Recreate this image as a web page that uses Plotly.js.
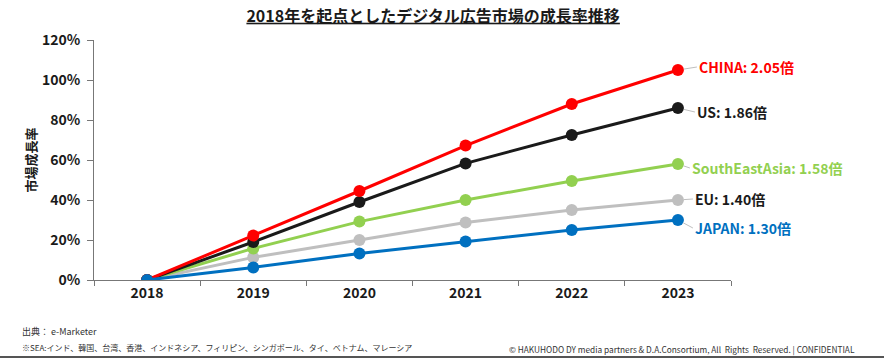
<!DOCTYPE html>
<html>
<head>
<meta charset="utf-8">
<script src="https://cdn.plot.ly/plotly-3.0.1.min.js"></script>
<style>
html,body{margin:0;padding:0;background:#fff;}
#chart{width:884px;height:358px;}
</style>
</head>
<body>
<div id="chart"></div>
<script>
const years = ['2018','2019','2020','2021','2022','2023'];
const seriesNames = ['EU','SouthEastAsia','US','CHINA','JAPAN'];
const euVals    = [0, 0.113, 0.200, 0.287, 0.350, 0.40];
const seaVals   = [0, 0.158, 0.292, 0.400, 0.495, 0.58];
const usVals    = [0, 0.190, 0.390, 0.583, 0.725, 0.86];
const chinaVals = [0, 0.222, 0.445, 0.672, 0.880, 1.05];
const japanVals = [0, 0.063, 0.133, 0.192, 0.250, 0.30];
const multiples = ['1.40倍','1.58倍','1.86倍','2.05倍','1.30倍'];
const colors = ['#BFBFBF','#92D050','#1A1A1A','#FF0000','#0070C0'];
const labelColors = ['#1A1A1A','#92D050','#1A1A1A','#FF0000','#0070C0'];
const labelOffsets = [[15,-1],[12,4],[17,4],[19,-3],[15,8]];
const allVals = [euVals, seaVals, usVals, chinaVals, japanVals];

const FONT = '"Noto Sans CJK JP", "Noto Sans", sans-serif';

const traces = allVals.map((v,i)=>({
  x: years, y: v, type:'scatter', mode:'lines+markers',
  name: seriesNames[i],
  line:{color:colors[i], width:3},
  marker:{color:colors[i], size:12},
  hoverinfo:'skip'
}));

const lastIdx = years.length-1;
const annotations = allVals.map((v,i)=>({
  x: lastIdx, y: v[lastIdx], xref:'x', yref:'y',
  text: '<b>'+seriesNames[i]+': '+multiples[i]+'</b>',
  showarrow:true, arrowhead:0, arrowwidth:1, arrowcolor:'#BFBFBF',
  ax: labelOffsets[i][0], ay: labelOffsets[i][1], standoff:6,
  xanchor:'left', yanchor:'middle',
  font:{family:FONT, size:14, color:labelColors[i]}
}));

annotations.push(
  {xref:'paper', yref:'paper', x:(20-94)/637, y:-51/240, xanchor:'left', yanchor:'middle',
   text:'出典： e-Marketer', showarrow:false, font:{family:FONT, size:9, color:'#333'}},
  {xref:'paper', yref:'paper', x:(20-94)/637, y:-67/240, xanchor:'left', yanchor:'middle',
   text:'※SEA:インド、韓国、台湾、香港、インドネシア、フィリピン、シンガポール、タイ、ベトナム、マレーシア', showarrow:false, font:{family:FONT, size:8, color:'#333'}},
  {xref:'paper', yref:'paper', x:(857-94)/637, y:-69/240, xanchor:'right', yanchor:'middle',
   text:'© HAKUHODO DY media partners & D.A.Consortium, All  Rights  Reserved. | CONFIDENTIAL', showarrow:false, font:{family:FONT, size:8.3, color:'#333'}}
);

const layout = {
  width:884, height:358,
  margin:{l:94, r:153, t:40, b:78},
  paper_bgcolor:'#fff', plot_bgcolor:'#fff',
  showlegend:false,
  title:{text:'<b><u>2018年を起点としたデジタル広告市場の成長率推移</u></b>', x:0.49, xanchor:'center', y:0.955, yanchor:'middle',
         font:{family:FONT, size:16, color:'#1A1A1A'}},
  xaxis:{type:'category', showgrid:false, zeroline:false, showline:true, linecolor:'#777', linewidth:1,
         ticks:'outside', ticklen:5, tickcolor:'#777', tickson:'boundaries',
         tickfont:{family:FONT, size:14, color:'#1A1A1A', weight:'bold'}, range:[-0.5,5.5], fixedrange:true},
  yaxis:{range:[0,1.2], dtick:0.2, tickformat:'.0%', showgrid:false, zeroline:false, showline:true,
         linecolor:'#777', linewidth:1, ticks:'outside', ticklen:6, tickcolor:'#777',
         tickfont:{family:FONT, size:14, color:'#1A1A1A', weight:'bold'}, ticklabelstandoff:4,
         title:{text:'<b>市場成長率</b>', font:{family:FONT, size:13, color:'#1A1A1A'}, standoff:2}},
  annotations: annotations,
  shapes:[
    {type:'rect', xref:'paper', yref:'paper', x0:-94/637, x1:1+153/637, y0:-78/240, y1:-76/240,
     fillcolor:'#555', line:{width:0}}
  ]
};

Plotly.newPlot('chart', traces, layout, {displayModeBar:false, staticPlot:true});
</script>
</body>
</html>
